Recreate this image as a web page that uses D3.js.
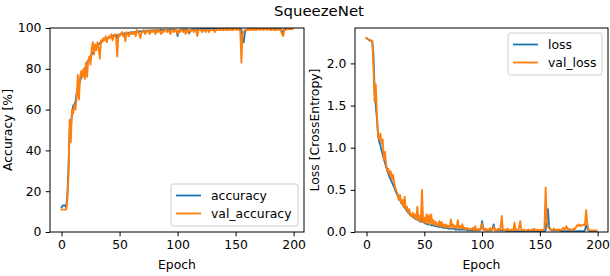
<!DOCTYPE html>
<html>
<head>
<meta charset="utf-8">
<script src="https://cdn.jsdelivr.net/npm/d3@7"></script>
<style>
  body { margin: 0; background: #fff; }
  svg { font-family: "DejaVu Sans", sans-serif; }
</style>
</head>
<body>
<div id="chart"></div>
<script>
// ---- data, one value per epoch 0..199 ----
const accuracy = [
  12, 13, 13, 13, 12, 18, 32, 50, 52, 58,
  62, 62, 64, 68, 70, 72, 74, 76, 78, 79,
  80, 81, 83, 84, 85, 86, 87, 88, 89, 90,
  90.5, 91, 92, 92.5, 93, 93.5, 94, 94.3, 94.6, 95,
  95.2, 95.5, 95.7, 96, 96.2, 96.4, 96.5, 96.6, 95, 96.5,
  96.8, 97, 97.1, 97.2, 97.3, 97.4, 97.5, 97.6, 97.6, 97.7,
  97.8, 97.9, 98, 98, 98.1, 98.2, 98.2, 98.3, 98.3, 98.4,
  98.4, 98.5, 98.5, 98.5, 98.6, 98.6, 98.7, 98.7, 98.7, 98.8,
  98.8, 98.8, 98.9, 98.9, 98.9, 99, 99, 99, 99, 99.1,
  99.1, 99.1, 99.1, 99.2, 99.2, 99.2, 99.2, 99.2, 99.2, 98.8,
  96, 98.4, 99, 99.2, 99.3, 99.3, 99.3, 99.3, 99.3, 98.9,
  97.3, 98.9, 99.3, 99.4, 99.4, 99.4, 99.4, 99.4, 99.4, 99.4,
  99.5, 99.6, 99.6, 99.6, 99.6, 99.6, 99.6, 99.6, 99.6, 99.6,
  99.6, 99.6, 99.6, 99.6, 99.6, 99.7, 99.7, 99.7, 99.7, 99.7,
  99.7, 99.7, 99.7, 99.7, 99.7, 99.7, 99.7, 99.7, 99.7, 99.7,
  99.7, 99.7, 99.7, 99.7, 99.7, 99.4, 94, 93, 98, 99,
  99.3, 99.4, 99.5, 99.5, 99.6, 99.6, 99.6, 99.6, 99.6, 99.6,
  99.6, 99.6, 99.6, 99.7, 99.7, 99.7, 99.7, 99.7, 99.7, 99.7,
  99.7, 99.7, 99.7, 99.7, 99.7, 99.7, 99.7, 99.7, 99.7, 99.7,
  97.5, 98.5, 99.4, 99.6, 99.7, 99.7, 99.7, 99.7, 99.7, 99.7
];
const valAccuracy = [
  11, 11, 11, 11, 11, 16, 28, 55, 44, 60,
  58, 62, 60, 66, 77, 65, 76, 79, 76, 80,
  75, 83, 76, 84, 86, 82, 90, 93, 87, 92,
  89, 93, 90, 85, 94, 93, 95, 94, 96, 93,
  95, 96, 95, 97, 94, 96, 97, 95, 86, 97,
  96, 97, 98, 96, 97, 93.5, 98, 97, 96, 98,
  97, 98, 97, 98, 96, 99, 98, 97, 95, 98,
  98, 99, 97, 98, 99, 98, 97, 99, 98, 99,
  98, 97, 99, 98, 99, 98, 97, 99, 98, 99,
  99, 98, 99, 98, 97, 99, 99, 98, 99, 99,
  97, 99, 98, 99, 99, 98, 99, 97, 99, 98,
  99, 98, 99, 99, 98, 99, 99, 96, 99, 99,
  99, 98, 99, 99, 98, 99, 99, 98, 99, 99,
  99, 99, 98, 99, 99, 99.5, 99, 99, 99.5, 99,
  99, 99.5, 99, 99, 99.5, 99, 99.5, 99, 99, 99.5,
  99.5, 99, 99.5, 99, 99, 83, 97, 98, 99, 99,
  99, 99.5, 99, 99.5, 99, 99.5, 99, 99.5, 99, 99.5,
  99.5, 99, 99.5, 99.5, 99, 99.5, 99.5, 99, 99.5, 99.5,
  99, 99, 99.5, 99, 99, 99, 99.5, 99, 99.5, 99,
  97, 96, 99, 99, 99.5, 99.5, 99.5, 99.5, 99.5, 99.5
];
const loss = [
  2.30, 2.29, 2.28, 2.27, 2.27, 2.26, 2.10, 1.70, 1.50, 1.35,
  1.15, 1.07, 1.03, 0.97, 0.92, 0.87, 0.82, 0.77, 0.73, 0.69,
  0.65, 0.62, 0.59, 0.56, 0.53, 0.49, 0.46, 0.43, 0.40, 0.38,
  0.35, 0.33, 0.31, 0.29, 0.27, 0.25, 0.23, 0.22, 0.20, 0.19,
  0.18, 0.17, 0.16, 0.15, 0.15, 0.14, 0.13, 0.12, 0.17, 0.12,
  0.11, 0.10, 0.10, 0.09, 0.09, 0.09, 0.08, 0.08, 0.08, 0.07,
  0.07, 0.07, 0.06, 0.06, 0.06, 0.06, 0.05, 0.05, 0.05, 0.05,
  0.05, 0.04, 0.04, 0.04, 0.04, 0.04, 0.04, 0.03, 0.03, 0.03,
  0.03, 0.03, 0.03, 0.03, 0.03, 0.03, 0.03, 0.02, 0.02, 0.02,
  0.02, 0.02, 0.02, 0.02, 0.02, 0.02, 0.02, 0.02, 0.02, 0.04,
  0.13, 0.05, 0.03, 0.02, 0.02, 0.02, 0.02, 0.02, 0.02, 0.04,
  0.09, 0.03, 0.02, 0.02, 0.02, 0.02, 0.02, 0.02, 0.02, 0.02,
  0.02, 0.01, 0.01, 0.01, 0.01, 0.01, 0.01, 0.01, 0.01, 0.01,
  0.01, 0.01, 0.01, 0.01, 0.01, 0.01, 0.01, 0.01, 0.01, 0.01,
  0.01, 0.01, 0.01, 0.01, 0.01, 0.01, 0.01, 0.01, 0.01, 0.01,
  0.01, 0.01, 0.01, 0.01, 0.01, 0.02, 0.20, 0.27, 0.06, 0.03,
  0.02, 0.02, 0.02, 0.02, 0.02, 0.02, 0.02, 0.02, 0.01, 0.01,
  0.01, 0.01, 0.01, 0.01, 0.01, 0.01, 0.01, 0.01, 0.01, 0.01,
  0.01, 0.01, 0.01, 0.01, 0.01, 0.01, 0.01, 0.01, 0.01, 0.02,
  0.08, 0.05, 0.02, 0.01, 0.01, 0.01, 0.01, 0.01, 0.01, 0.01
];
const valLoss = [
  2.30, 2.29, 2.28, 2.28, 2.27, 2.27, 1.95, 1.55, 1.75, 1.40,
  1.15, 1.10, 1.17, 1.05, 1.10, 0.85, 0.95, 0.80, 0.72, 0.75,
  0.68, 0.72, 0.62, 0.68, 0.58, 0.52, 0.48, 0.45, 0.38, 0.44,
  0.34, 0.38, 0.30, 0.42, 0.27, 0.30, 0.23, 0.27, 0.20, 0.19,
  0.23, 0.17, 0.21, 0.15, 0.30, 0.14, 0.19, 0.12, 0.50, 0.12,
  0.17, 0.10, 0.21, 0.11, 0.20, 0.09, 0.21, 0.10, 0.14, 0.08,
  0.12, 0.09, 0.07, 0.13, 0.07, 0.12, 0.06, 0.09, 0.05, 0.09,
  0.06, 0.07, 0.05, 0.15, 0.06, 0.09, 0.05, 0.07, 0.04, 0.14,
  0.05, 0.07, 0.04, 0.09, 0.04, 0.05, 0.03, 0.05, 0.04, 0.03,
  0.04, 0.03, 0.05, 0.02, 0.07, 0.03, 0.02, 0.04, 0.02, 0.05,
  0.10, 0.03, 0.02, 0.04, 0.02, 0.03, 0.02, 0.05, 0.02, 0.03,
  0.06, 0.02, 0.03, 0.02, 0.04, 0.02, 0.05, 0.19, 0.03, 0.02,
  0.03, 0.02, 0.04, 0.02, 0.02, 0.03, 0.02, 0.02, 0.11, 0.02,
  0.03, 0.02, 0.05, 0.13, 0.02, 0.02, 0.03, 0.02, 0.02, 0.02,
  0.03, 0.02, 0.02, 0.03, 0.02, 0.04, 0.02, 0.02, 0.03, 0.02,
  0.02, 0.03, 0.02, 0.02, 0.05, 0.53, 0.12, 0.06, 0.04, 0.03,
  0.03, 0.02, 0.04, 0.03, 0.02, 0.03, 0.02, 0.03, 0.02, 0.03,
  0.05, 0.03, 0.04, 0.07, 0.03, 0.04, 0.03, 0.03, 0.02, 0.04,
  0.03, 0.05, 0.08, 0.07, 0.09, 0.07, 0.08, 0.08, 0.09, 0.08,
  0.26, 0.10, 0.03, 0.02, 0.02, 0.02, 0.02, 0.02, 0.02, 0.02
];
const xTicks = [0, 50, 100, 150, 200];
const accTicks = [0, 20, 40, 60, 80, 100];
const lossTicks = [0.0, 0.5, 1.0, 1.5, 2.0];

const blue = "#1f77b4", orange = "#ff7f0e";
const W = 610, H = 276;
const FS = 12.4;      // 10pt at this scale
const TICK = 4.3;     // 3.5pt

const svg = d3.select("#chart").append("svg")
  .attr("width", W).attr("height", H);

svg.append("text")
  .attr("x", 319).attr("y", 15.5)
  .attr("text-anchor", "middle")
  .style("font-size", "14.9px")
  .text("SqueezeNet");

//Draw one subplot: box, axes, lines, legend
function panel(opt) {
  const x = d3.scaleLinear().domain([-9.95, 208.95]).range([opt.left, opt.right]);
  const y = d3.scaleLinear().domain(opt.yDomain).range([232, 28]);
  const g = svg.append("g");

  const clip = "clip" + opt.id;
  g.append("clipPath").attr("id", clip)
    .append("rect").attr("x", opt.left).attr("y", 28)
    .attr("width", opt.right - opt.left).attr("height", 204);

  const line = d3.line().x((d, i) => x(i)).y(d => y(d));
  const lines = g.append("g").attr("clip-path", `url(#${clip})`);
  opt.series.forEach(s => {
    lines.append("path")
      .datum(s.values)
      .attr("d", line)
      .attr("fill", "none")
      .attr("stroke", s.color)
      .attr("stroke-width", 1.85)
      .attr("stroke-linejoin", "round")
      .attr("stroke-linecap", "square");
  });

  const xAxis = g.append("g").attr("transform", "translate(0,232)")
    .call(d3.axisBottom(x).tickValues(xTicks).tickSize(TICK).tickPadding(TICK).tickFormat(d3.format("d")));
  const yAxis = g.append("g").attr("transform", `translate(${opt.left},0)`)
    .call(d3.axisLeft(y).tickValues(opt.yTicks).tickSize(TICK).tickPadding(TICK).tickFormat(opt.fmt));
  [xAxis, yAxis].forEach(a => {
    a.select(".domain").remove();
    a.selectAll("line").attr("stroke", "#000").attr("stroke-width", 1);
    a.selectAll("text").style("font-size", FS + "px").attr("fill", "#000")
      .style("font-family", "DejaVu Sans, sans-serif");
  });

  g.append("rect")
    .attr("x", opt.left).attr("y", 28)
    .attr("width", opt.right - opt.left).attr("height", 204)
    .attr("fill", "none").attr("stroke", "#000").attr("stroke-width", 1);

  g.append("text")
    .attr("x", (opt.left + opt.right) / 2).attr("y", 269)
    .attr("text-anchor", "middle").style("font-size", FS + "px")
    .text("Epoch");
  g.append("text")
    .attr("transform", `translate(${opt.yLabelX},130) rotate(-90)`)
    .attr("text-anchor", "middle").style("font-size", FS + "px")
    .text(opt.yLabel);

  // legend
  const lg = g.append("g").attr("transform", `translate(${opt.legend.x},${opt.legend.y})`);
  lg.append("rect")
    .attr("width", opt.legend.w).attr("height", 42).attr("rx", 2.5)
    .attr("fill", "#fff").attr("fill-opacity", 0.8)
    .attr("stroke", "#ccc").attr("stroke-width", 1);
  opt.series.forEach((s, i) => {
    const yy = 11.5 + i * 18;
    lg.append("line").attr("x1", 5).attr("x2", 30).attr("y1", yy).attr("y2", yy)
      .attr("stroke", s.color).attr("stroke-width", 1.85);
    lg.append("text").attr("x", 40).attr("y", yy + 4.4)
      .style("font-size", FS + "px").text(s.name);
  });
}

panel({
  id: "acc", left: 50, right: 304, yDomain: [0, 100], yTicks: accTicks,
  fmt: d3.format("d"), yLabel: "Accuracy [%]", yLabelX: 12,
  series: [{name: "accuracy", values: accuracy, color: blue},
           {name: "val_accuracy", values: valAccuracy, color: orange}],
  legend: {x: 171, y: 184, w: 127}
});

panel({
  id: "loss", left: 355, right: 608, yDomain: [0, 2.42], yTicks: lossTicks,
  fmt: d3.format(".1f"), yLabel: "Loss [CrossEntropy]", yLabelX: 319,
  series: [{name: "loss", values: loss, color: blue},
           {name: "val_loss", values: valLoss, color: orange}],
  legend: {x: 508, y: 33, w: 94}
});
</script>
</body>
</html>
